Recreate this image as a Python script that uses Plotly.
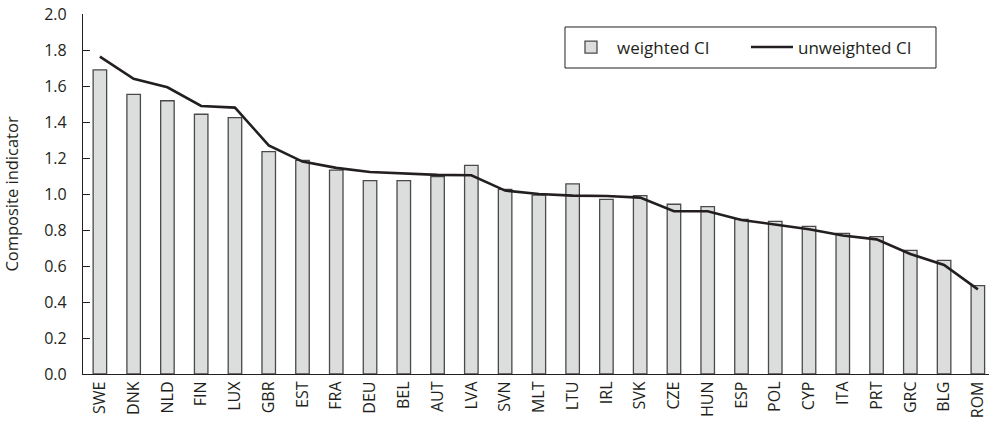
import plotly.graph_objects as go

countries = ["SWE", "DNK", "NLD", "FIN", "LUX", "GBR", "EST", "FRA", "DEU", "BEL", "AUT", "LVA", "SVN", "MLT",
             "LTU", "IRL", "SVK", "CZE", "HUN", "ESP", "POL", "CYP", "ITA", "PRT", "GRC", "BLG", "ROM"]
weighted_ci = [1.69, 1.554, 1.518, 1.443, 1.424, 1.235, 1.187, 1.133, 1.074, 1.074, 1.096, 1.159, 1.026, 0.994,
               1.056, 0.970, 0.991, 0.943, 0.930, 0.859, 0.848, 0.820, 0.781, 0.763, 0.687, 0.631, 0.491]
unweighted_ci = [1.763, 1.640, 1.593, 1.489, 1.480, 1.270, 1.180, 1.145, 1.122, 1.115, 1.106, 1.104, 1.019, 1.000,
                 0.991, 0.989, 0.980, 0.904, 0.904, 0.856, 0.830, 0.804, 0.769, 0.748, 0.667, 0.606, 0.470]
y_ticks = [0.0, 0.2, 0.4, 0.6, 0.8, 1.0, 1.2, 1.4, 1.6, 1.8, 2.0]

fig = go.Figure()
fig.add_trace(go.Bar(
    x=countries, y=weighted_ci, name="weighted CI",
    width=0.4,
    marker=dict(color="#dcdddd", line=dict(color="#4a4a4a", width=1.3)),
))
fig.add_trace(go.Scatter(
    x=countries, y=unweighted_ci, name="unweighted CI", mode="lines",
    line=dict(color="#231f20", width=2.6),
))

FONT = "Open Sans"
fig.update_layout(
    width=989, height=429,
    margin=dict(l=83, r=0, t=14, b=55, autoexpand=False),
    paper_bgcolor="white", plot_bgcolor="white",
    font=dict(family=FONT, size=14, color="#231f20"),
    showlegend=True,
    legend=dict(
        orientation="h", x=0.532, y=0.907, xanchor="left", yanchor="middle",
        borderwidth=0, bgcolor="rgba(0,0,0,0)",
        font=dict(family=FONT, size=17, color="#231f20"),
        itemwidth=42, entrywidth=124, entrywidthmode="pixels", traceorder="normal",
    ),
    shapes=[dict(type="rect", xref="paper", yref="paper",
                 x0=0.532, x1=0.9415, y0=0.85, y1=0.9639,
                 line=dict(color="#231f20", width=1), fillcolor="rgba(0,0,0,0)", layer="below")],
    xaxis=dict(
        range=[-0.5, 26.33], showline=True, linecolor="#231f20", linewidth=1.2,
        ticks="", tickangle=-90, tickfont=dict(family=FONT, size=16),
        showgrid=False, zeroline=False, fixedrange=True, automargin=False,
    ),
    yaxis=dict(
        range=[0, 2.0], tickvals=y_ticks, ticktext=[f"{v:.1f}" for v in y_ticks],
        showline=True, linecolor="#231f20", linewidth=1.2,
        ticks="inside", ticklen=7, tickwidth=1.2, tickcolor="#231f20", ticklabelstandoff=12,
        showgrid=False, zeroline=False, automargin=False, fixedrange=True,
        title=dict(text="Composite indicator", font=dict(family=FONT, size=16.5), standoff=22),
        tickfont=dict(family=FONT, size=16),
    ),
)

fig.write_html("out.html", config={"displayModeBar": False},
               post_script="document.body.style.margin='0px';document.body.style.overflow='hidden';")
